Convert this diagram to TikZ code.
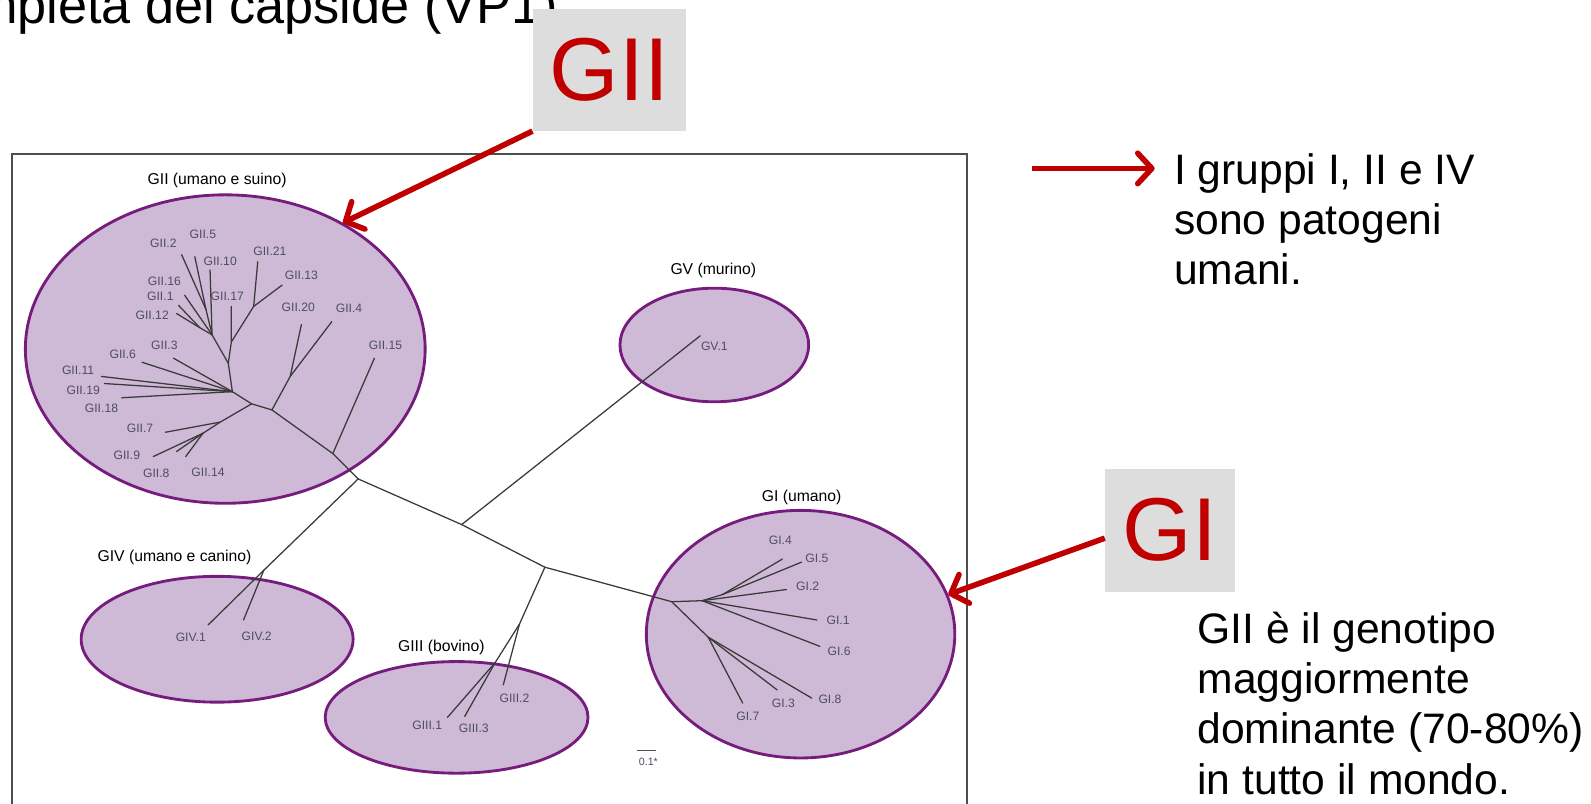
\documentclass[tikz,border=0pt]{standalone}
\usepackage{fontspec}
\setmainfont{Liberation Sans}
\usetikzlibrary{arrows.meta,shapes.geometric}
\definecolor{grpfill}{RGB}{206,186,214}
\definecolor{grpline}{RGB}{118,28,124}
\definecolor{redarr}{RGB}{192,0,0}
\definecolor{boxgrey}{RGB}{221,221,221}
\definecolor{treeline}{RGB}{58,58,58}
\definecolor{leafcol}{RGB}{78,78,96}
\definecolor{framecol}{RGB}{78,78,78}
\begin{document}
\begin{tikzpicture}[x=1pt,y=-1pt,
  grp/.style={draw=grpline, fill=grpfill, line width=2.8pt, ellipse, inner sep=0pt},
  br/.style={draw=treeline, line width=1.25pt, line cap=round, line join=round},
  leaf/.style={text=leafcol, font=\fontsize{12}{12}\selectfont, inner sep=0pt},
  grplabel/.style={font=\fontsize{15.5}{17}\selectfont, inner sep=0pt},
  bigred/.style={fill=boxgrey, text=redarr, font=\fontsize{88}{90}\selectfont, inner sep=0pt},
  redarrow/.style={draw=redarr, line width=5.5pt, -{Straight Barb[length=14pt,width=30pt,round]}},
  bodytext/.style={font=\fontsize{42}{49.5}\selectfont, align=left, inner sep=0pt, anchor=north west}
]
\useasboundingbox (0,0) rectangle (1568,792);
\clip (0,0) rectangle (1568,792);

% title (cut at top/left, as in the reference)
\node[anchor=base east, font=\fontsize{51.5}{55}\selectfont, inner sep=0pt] (title) at (550,23) {completa del capside (VP1)};

% frame
\draw[framecol, line width=2.4pt] (12,805) -- (12,152) -- (953,152) -- (953,805);

% ellipses
\node[grp, minimum width=394pt, minimum height=304pt] (ellGII) at (222,344) {};
\node[grp, minimum width=186pt, minimum height=112pt] (ellGV) at (704,340) {};
\node[grp, minimum width=304pt, minimum height=244pt] (ellGI) at (789,625) {};
\node[grp, minimum width=268pt, minimum height=124pt] (ellGIV) at (214,630) {};
\node[grp, minimum width=259pt, minimum height=110pt] (ellGIII) at (450,707) {};

% group labels
\node[grplabel] (labGII) at (214,178) {GII (umano e suino)};
\node[grplabel] (labGV) at (703,267) {GV (murino)};
\node[grplabel] (labGI) at (790,490) {GI (umano)};
\node[grplabel] (labGIV) at (172,549) {GIV (umano e canino)};
\node[grplabel] (labGIII) at (435,638) {GIII (bovino)};

% ---- tree coordinates ----
\coordinate (J1) at (353,472);
\coordinate (J2) at (455,517);
\coordinate (J3) at (537,559);
\coordinate (GIr) at (662,593);
\coordinate (GIVj) at (260,562);
\coordinate (GV1e) at (690,331);
\coordinate (GIIIj) at (512,615);
\coordinate (GIIIk) at (488,653);
\coordinate (GIII2e) at (496,675);
\coordinate (GIII1e) at (441,707);
\coordinate (GIII3e) at (458,706);
\coordinate (GIV1e) at (205,616);
\coordinate (GIV2e) at (240,611);
% GII
\coordinate (GIIb) at (328,447);
\coordinate (b) at (268,404);
\coordinate (a) at (248,398);
\coordinate (GII15e) at (369,353);
\coordinate (m) at (286,371);
\coordinate (GII20e) at (297,320);
\coordinate (GII4e) at (327,317);
\coordinate (c) at (229,386);
\coordinate (GII6e) at (140,357);
\coordinate (GII3e) at (171,353);
\coordinate (GII11e) at (100,371);
\coordinate (GII19e) at (103,378);
\coordinate (GII18e) at (120,392);
\coordinate (d) at (217,416);
\coordinate (GII7e) at (163,426);
\coordinate (e) at (200,427);
\coordinate (GII9e) at (151,450);
\coordinate (GII8e) at (174,445);
\coordinate (GII14e) at (183,450);
\coordinate (f) at (225,358);
\coordinate (g) at (228,337);
\coordinate (GII17e) at (228,302);
\coordinate (h) at (250,302);
\coordinate (GII21e) at (254,258);
\coordinate (GII13e) at (278,281);
\coordinate (i) at (209,330);
\coordinate (j) at (203,305);
\coordinate (GII2e) at (179,251);
\coordinate (GII5e) at (192,253);
\coordinate (GII10e) at (207,266);
\coordinate (GII16e) at (182,291);
\coordinate (k) at (197,323);
\coordinate (GII1e) at (176,301);
\coordinate (GII12e) at (174,309);
% GI
\coordinate (N1) at (692,592);
\coordinate (n2) at (712,586);
\coordinate (GI4e) at (771,551);
\coordinate (GI5e) at (790,554);
\coordinate (GI2e) at (775,581);
\coordinate (GI1e) at (805,611);
\coordinate (GI6e) at (808,637);
\coordinate (N3) at (698,628);
\coordinate (GI7e) at (732,693);
\coordinate (GI8e) at (800,688);
\coordinate (GI3e) at (766,680);

% ---- branches ----
\draw[br] (J1) -- (J2) -- (J3) -- (GIr);
\draw[br] (J1) -- (GIVj);
\draw[br] (GIVj) -- (GIV1e);
\draw[br] (GIVj) -- (GIV2e);
\draw[br] (J2) -- (GV1e);
\draw[br] (J3) -- (GIIIj) -- (GIIIk) -- (GIII1e);
\draw[br] (GIIIk) -- (GIII3e);
\draw[br] (GIIIj) -- (GIII2e);
\draw[br] (J1) -- (GIIb) -- (b) -- (a);
\draw[br] (GIIb) -- (GII15e);
\draw[br] (b) -- (m) -- (GII20e);
\draw[br] (m) -- (GII4e);
\draw[br] (a) -- (c);
\foreach \t in {GII6e,GII3e,GII11e,GII19e,GII18e} \draw[br] (c) -- (\t);
\draw[br] (a) -- (d) -- (GII7e);
\draw[br] (d) -- (e);
\foreach \t in {GII9e,GII8e,GII14e} \draw[br] (e) -- (\t);
\draw[br] (c) -- (f) -- (g) -- (GII17e);
\draw[br] (g) -- (h) -- (GII21e);
\draw[br] (h) -- (GII13e);
\draw[br] (f) -- (i) -- (j) -- (GII2e);
\draw[br] (j) -- (GII5e);
\draw[br] (i) -- (GII10e);
\draw[br] (i) -- (GII16e);
\draw[br] (i) -- (k) -- (GII1e);
\draw[br] (k) -- (GII12e);
\draw[br] (GIr) -- (N1) -- (n2) -- (GI4e);
\draw[br] (n2) -- (GI5e);
\draw[br] (N1) -- (GI2e);
\draw[br] (N1) -- (GI1e);
\draw[br] (N1) -- (GI6e);
\draw[br] (GIr) -- (N3) -- (GI7e);
\draw[br] (N3) -- (GI8e);
\draw[br] (N3) -- (GI3e);

% ---- leaf labels ----
\node[leaf] (tGII2) at (161,240) {GII.2};
\node[leaf] (tGII5) at (200,231) {GII.5};
\node[leaf] (tGII10) at (217,258) {GII.10};
\node[leaf] (tGII21) at (266,248) {GII.21};
\node[leaf] (tGII13) at (297,271) {GII.13};
\node[leaf] (tGII16) at (162,277) {GII.16};
\node[leaf] (tGII1) at (158,292) {GII.1};
\node[leaf] (tGII17) at (224,292) {GII.17};
\node[leaf] (tGII12) at (150,311) {GII.12};
\node[leaf] (tGII20) at (294,303) {GII.20};
\node[leaf] (tGII4) at (344,304) {GII.4};
\node[leaf] (tGII3) at (162,340) {GII.3};
\node[leaf] (tGII6) at (121,349) {GII.6};
\node[leaf] (tGII15) at (380,340) {GII.15};
\node[leaf] (tGII11) at (77,365) {GII.11};
\node[leaf] (tGII19) at (82,385) {GII.19};
\node[leaf] (tGII18) at (100,402) {GII.18};
\node[leaf] (tGII7) at (138,422) {GII.7};
\node[leaf] (tGII9) at (125,449) {GII.9};
\node[leaf] (tGII8) at (154,466) {GII.8};
\node[leaf] (tGII14) at (205,465) {GII.14};
\node[leaf] (tGV1) at (704,341) {GV.1};
\node[leaf] (tGIV1) at (188,628) {GIV.1};
\node[leaf] (tGIV2) at (253,627) {GIV.2};
\node[leaf] (tGIII1) at (421,715) {GIII.1};
\node[leaf] (tGIII3) at (467,718) {GIII.3};
\node[leaf] (tGIII2) at (507,688) {GIII.2};
\node[leaf] (tGI4) at (769,532) {GI.4};
\node[leaf] (tGI5) at (805,550) {GI.5};
\node[leaf] (tGI2) at (796,578) {GI.2};
\node[leaf] (tGI1) at (826,611) {GI.1};
\node[leaf] (tGI6) at (827,642) {GI.6};
\node[leaf] (tGI8) at (818,689) {GI.8};
\node[leaf] (tGI3) at (772,693) {GI.3};
\node[leaf] (tGI7) at (737,706) {GI.7};

% scale bar
\coordinate (sbL) at (628,740);
\coordinate (sbR) at (647,740);
\draw[leafcol, line width=1.2pt] (sbL) -- (sbR);
\node[leaf, font=\fontsize{10.5}{11}\selectfont] (sbtext) at (639,751) {0.1*};

% red boxes
\node[bigred, minimum width=151pt, minimum height=120pt] (boxGII) at (600.5,69) {GII};
\node[bigred, minimum width=128pt, minimum height=121pt] (boxGI) at (1153,522.5) {GI};

% red arrows
\draw[redarrow] (boxGII.south west) -- (ellGII.47);
\draw[redarrow] (boxGI.187) -- (ellGI.15);
\coordinate (arrS) at (1017,166);
\coordinate (arrE) at (1138,166);
\draw[redarrow] (arrS) -- (arrE);

% body text
\node[bodytext] (txt1) at (1157,151) {I gruppi I, II e IV\\sono patogeni\\umani.};
\node[bodytext] (txt2) at (1180,603) {GII è il genotipo\\maggiormente\\dominante (70-80\%)\\in tutto il mondo.};
\end{tikzpicture}
\end{document}
